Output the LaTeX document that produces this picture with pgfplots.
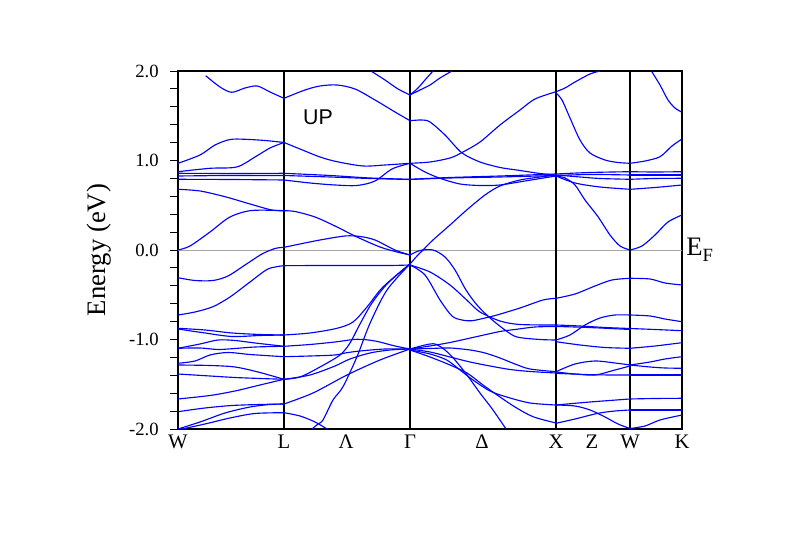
\documentclass[border=0pt]{standalone}
\usepackage{pgfplots}
\pgfplotsset{compat=1.18}
\usepackage{fontspec}
\setmainfont{Liberation Serif}
\newfontfamily\arial{Liberation Sans}

% band coordinates: x = position along the k-path (px of the original plot),
% y = read off in px and mapped to eV by the y filter (0 eV at 250, 89.5 per eV)
\newcommand{\band}[1]{\addplot[blue, line width=0.85pt, smooth, mark=none] coordinates {#1};}

\begin{document}
\begin{tikzpicture}
\useasboundingbox (-133.5pt,-81.75pt) rectangle (458.25pt,321.75pt);
\begin{axis}[
  at={(0,0)}, anchor=south west,
  scale only axis, width=378pt, height=268.5pt,
  xmin=178, xmax=682, ymin=-2, ymax=2,
  y filter/.expression={(250-y)/89.5},
  axis line style={line width=0.9pt},
  xtick={178,284,346,410,482,556,592,630,682},
  xticklabels={W,L,Λ,Γ,Δ,X,Z,W,K},
  xtick style={draw=none},
  xticklabel style={font=\fontsize{15.5}{15.5}\selectfont, yshift=5pt},
  ytick={-2,-1,0,1,2},
  yticklabels={-2.0,-1.0,0.0,1.0,2.0},
  minor y tick num=4,
  ytick pos=left, tick align=outside,
  major tick length=6pt, minor tick length=6pt,
  every tick/.style={black, line width=0.7pt},
  yticklabel style={font=\fontsize{14}{14}\selectfont, xshift=-5pt},
  clip=true,
]
% Fermi level and high-symmetry lines
\addplot[gray!70, line width=0.6pt, sharp plot, mark=none] coordinates {(178,250) (682,250)};
\draw[black, line width=0.8pt] (axis cs:284,-2) -- (axis cs:284,2);
\draw[black, line width=0.8pt] (axis cs:410,-2) -- (axis cs:410,2);
\draw[black, line width=0.8pt] (axis cs:556,-2) -- (axis cs:556,2);
\draw[black, line width=0.8pt] (axis cs:630,-2) -- (axis cs:630,2);

% ---- W - L
\band{(205.7,75.7) (220,87) (231.7,92.3) (245,88) (257.3,86) (270,92) (284,98.3)}
\band{(178,163.3) (200,155) (215,145) (230,139.5) (245,139.3) (265,140.5) (284,142.5)}
\band{(178,171.7) (210,168.3) (236.7,167) (255,157) (270,148) (284,142.5)}
\band{(178,173.3) (230,173.5) (284,173.3)}
\band{(178,176) (230,175.5) (284,175.5)}
\band{(178,179.3) (230,179.5) (284,180)}
\band{(178,189.3) (200,191) (225,196.7) (250,204) (271.7,210) (284,210.7)}
\band{(178,250) (190,246) (210,232) (230,217) (251.7,210.5) (284,210.7)}
\band{(178,277.7) (195,280.5) (213,280.5) (228,276) (245,265) (262,254) (275,248.5) (284,247.3)}
\band{(178,315) (195,312) (213,306.7) (230,297) (250,282) (268,269) (284,265.7)}
\band{(178,328.3) (205,330) (232,333) (260,334.5) (284,335)}
\band{(178,329) (205,333) (232,336.5) (260,335.5) (284,335)}
\band{(178,348.3) (200,344) (218,340) (235,340.5) (255,343) (284,346.3)}
\band{(178,348.3) (200,348) (218,349.5) (235,348.5) (255,347) (284,346.3)}
\band{(178,363.3) (195,361) (210,355) (228,352.5) (250,354.5) (284,356.7)}
\band{(178,365) (210,365.5) (235,367) (258,372) (284,379.3)}
\band{(178,374) (210,376) (235,377.5) (260,378.5) (284,379.3)}
\band{(178,399) (210,395.5) (235,391) (260,385) (284,379.3)}
\band{(178,411.7) (205,408) (232,405.5) (260,404.5) (284,404)}
\band{(178,429) (200,422) (225,413) (250,407) (270,404.5) (284,404)}
\band{(182,429) (205,424) (230,418) (255,413.5) (284,412.7)}

% ---- L - Gamma
\band{(284,98.3) (305,90) (320,86) (337,85) (355,89) (375,100) (395,112) (410,120.7)}
\band{(371.7,71.5) (385,80) (398,89) (410,95)}
\band{(284,142.5) (300,149) (320,157) (337,161.7) (363,166) (385,165) (410,163.3)}
\band{(284,173.3) (330,175.5) (370,178) (410,179.3)}
\band{(284,175.5) (330,177) (370,178.5) (410,179.5)}
\band{(284,180) (310,183) (335,185) (357,185.5) (375,181) (392,169) (410,163.3)}
\band{(284,210.7) (295,211.5) (315,217) (335,226) (357,237) (380,247) (397,252) (410,255)}
\band{(284,247.3) (300,244) (320,240) (345,236) (360,236.5) (375,240) (395,250) (410,255)}
\band{(284,265.7) (320,265.5) (360,265.5) (390,265.5) (410,265)}
\band{(284,335) (310,333) (337,328.3) (353,322) (367,307) (383,287) (410,264)}
\band{(284,379.3) (300,377) (320,367) (340,355) (350,343) (360,324) (372,303) (388,283) (410,264)}
\band{(312,429) (318,424) (323,420) (333,400) (343,386.7) (357,356.7) (370,323.3) (387,290) (410,264)}
\band{(284,346.3) (310,344.5) (335,342) (357,339.3) (375,341) (395,346) (410,349)}
\band{(284,356.7) (310,356) (335,355) (345,353) (360,351) (385,349) (410,349)}
\band{(284,379.3) (310,375) (335,366) (350,359) (370,353) (390,350) (410,349)}
\band{(284,404) (313,393) (347,375) (380,360) (410,349)}
\band{(284,412.7) (300,416) (315,422) (327,429)}

% ---- Gamma - X
\band{(410,95) (418,88) (425,80) (433,71)}
\band{(410,95) (420,90) (430,85) (440,78) (452,71)}
\band{(410,120.7) (421.7,120) (430,122) (445,135) (461.7,152.7) (480,162) (500,167.5) (516.7,170) (540,173.5) (556,175)}
\band{(410,163.3) (430,162) (450,158) (461.7,152.7) (480,142) (500,125) (520,110) (535,99) (556,91.7)}
\band{(410,163.3) (425,172) (440,178.3) (460,184) (480,185.5) (500,185) (525,181) (556,176)}
\band{(410,179.3) (450,177.5) (500,176) (556,174)}
\band{(410,179.5) (450,178) (500,177) (556,175.5)}
\band{(410,264) (417,256) (423,250) (433,240) (450,225) (466.7,210) (485,195) (500,186) (520,180) (540,177) (556,175)}
\band{(410,255) (420,250.5) (433,250) (445,257) (455,270) (466,290) (477,305) (490,318) (505,330) (517,337) (540,339.5) (556,340)}
\band{(410,265) (425,275) (440,300) (452,316) (462,320) (472,320.7) (485,318) (497,315) (520,308) (543,300) (556,298.3)}
\band{(410,265) (430,272) (450,285) (466.7,300) (480,312) (500,321) (520,324.5) (556,325)}
\band{(410,349) (430,346) (450,342.5) (475,337) (500,331.5) (515,329.5) (535,327) (556,326.5)}
\band{(410,349) (430,348.5) (450,348) (470,350) (485,353) (500,358) (515,364) (530,369) (556,371.7)}
\band{(410,349) (430,352) (450,357) (470,362) (490,366) (510,369.5) (530,371.5) (556,373)}
\band{(410,350) (430,354) (446.7,360) (460,370) (473,380) (490,391) (506.7,397) (530,403) (556,405)}
\band{(410,350) (430,357) (450,365) (467,373) (483,385) (500,397) (515,407) (533,416.7) (556,423)}
\band{(410,349) (425,345) (435,344) (445,350) (455,360) (467,375) (480,393) (493,410) (506,429)}

% ---- X - W
\band{(556,91.7) (565,88) (575,82) (590,74) (600,71)}
\band{(556,93) (562,100) (570,118) (580,140) (590,153) (605,160) (618,162.5) (630,163.3)}
\band{(556,174) (590,172.5) (630,171.7)}
\band{(556,175.5) (590,174.5) (630,175)}
\band{(556,175) (580,177) (600,178.5) (630,179.3)}
\band{(556,176) (575,183) (600,187) (630,189.3)}
\band{(556,176) (565,178) (575,185) (585,200) (598,216.7) (610,235) (620,246) (630,250)}
\band{(556,298.3) (575,294) (595,286) (612,280) (630,278.3)}
\band{(556,325) (580,326) (605,327.5) (630,328.5)}
\band{(556,326.5) (575,327) (600,328) (630,329.5)}
\band{(556,340) (570,335) (585,325) (600,318) (615,315) (630,315)}
\band{(556,341.7) (580,345) (605,347.5) (630,348.3)}
\band{(556,371.7) (575,364) (595,361) (615,363) (630,365)}
\band{(556,372) (575,374) (595,375) (615,370) (630,366)}
\band{(556,373.3) (585,374.5) (610,375) (630,375)}
\band{(556,405) (590,402) (630,399)}
\band{(556,405) (575,406) (590,410) (605,417) (618,424) (630,428.5)}
\band{(556,423.3) (575,419) (598,413.3) (615,411) (630,410)}

% ---- W - K
\band{(651.7,71.5) (660,85) (668,100) (675,108) (682,112.3)}
\band{(630,163.3) (645,161) (660,156.7) (672,146) (682,139)}
\band{(630,171.7) (655,172) (682,171.7)}
\band{(630,175) (655,175) (682,175)}
\band{(630,179.3) (655,178.5) (682,178.3)}
\band{(630,189.3) (655,187.5) (682,185)}
\band{(630,250) (642,246) (655,235) (668,222) (682,215)}
\band{(630,278.3) (650,279) (665,283) (682,285)}
\band{(630,315) (650,316) (665,319) (682,321.7)}
\band{(630,328.5) (655,329.5) (682,330.7)}
\band{(630,348.3) (655,346) (682,342.7)}
\band{(630,365) (650,362) (665,359) (682,356.7)}
\band{(630,365) (650,367) (665,368) (682,368.3)}
\band{(630,375) (655,375) (682,375)}
\band{(630,399) (655,398.5) (682,398.3)}
\band{(630,410) (655,410) (682,410)}
\band{(630,428.5) (645,426) (660,420) (682,415)}

\node[font=\arial\fontsize{16}{16}\selectfont] at (axis cs:318,1.486) {UP};
\end{axis}
\node[rotate=90, font=\fontsize{20}{20}\selectfont] at (-59pt,134.25pt) {Energy (eV)};
\node[anchor=west, inner sep=0pt, font=\fontsize{20}{20}\selectfont] at (381pt,134.25pt) {E\raisebox{-4.5pt}{\fontsize{14}{14}\selectfont F}};
\end{tikzpicture}
\end{document}
